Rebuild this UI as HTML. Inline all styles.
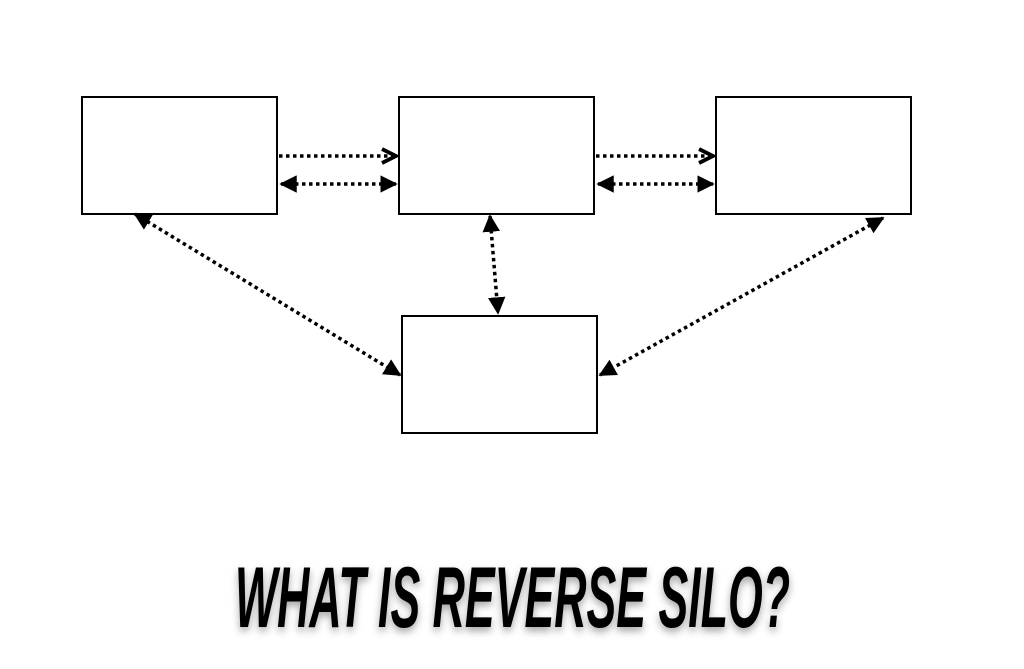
<!DOCTYPE html>
<html><head><style>html,body{margin:0;padding:0;background:#fff;}</style></head>
<body>
<svg width="1024" height="664" viewBox="0 0 1024 664" xmlns="http://www.w3.org/2000/svg">
<defs>
<marker id="f" viewBox="0 0 10 10" refX="9" refY="5" markerWidth="5" markerHeight="5" orient="auto-start-reverse"><path d="M0,0 L10,5 L0,10 z" fill="#000"/></marker>
<marker id="o" viewBox="0 0 10 10" refX="9" refY="5" markerWidth="5" markerHeight="5" orient="auto"><path d="M1,1 L9,5 L1,9" fill="none" stroke="#000" stroke-width="2.2"/></marker>
<filter id="s" x="-5%" y="-20%" width="110%" height="150%"><feDropShadow dx="0" dy="4" stdDeviation="4" flood-color="#000" flood-opacity="0.35"/></filter>
</defs>
<g fill="none" stroke="#000" stroke-width="2">
<rect x="82" y="97" width="195" height="117"/>
<rect x="399" y="97" width="195" height="117"/>
<rect x="716" y="97" width="195" height="117"/>
<rect x="402" y="316" width="195" height="117"/>
</g>
<g stroke="#000" stroke-width="3.5" stroke-dasharray="3.5 3.5" fill="none">
<line x1="279" y1="156" x2="396" y2="156" marker-end="url(#o)"/>
<line x1="281" y1="184" x2="396" y2="184" marker-start="url(#f)" marker-end="url(#f)"/>
<line x1="596" y1="156" x2="713" y2="156" marker-end="url(#o)"/>
<line x1="598" y1="184" x2="713" y2="184" marker-start="url(#f)" marker-end="url(#f)"/>
<line x1="135" y1="214" x2="400" y2="375" marker-start="url(#f)" marker-end="url(#f)"/>
<line x1="490" y1="216" x2="498" y2="313" marker-start="url(#f)" marker-end="url(#f)"/>
<line x1="883" y1="218" x2="600" y2="375" marker-start="url(#f)" marker-end="url(#f)"/>
</g>
<text x="235" y="627" textLength="555" lengthAdjust="spacingAndGlyphs" font-family="'Liberation Sans Narrow','Liberation Sans',sans-serif" font-weight="bold" font-style="italic" font-size="86" fill="#000" filter="url(#s)">WHAT IS REVERSE SILO?</text>
</svg>
</body></html>
